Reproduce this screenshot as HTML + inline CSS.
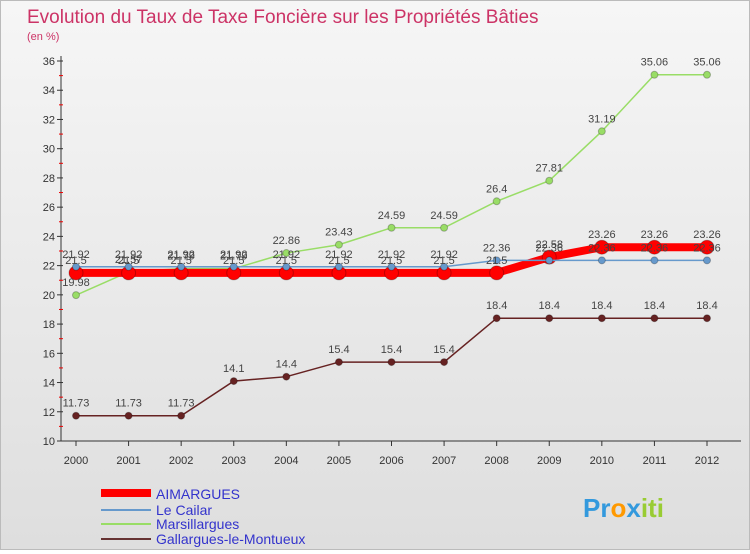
<!DOCTYPE html>
<html><head><meta charset="utf-8">
<style>
body{margin:0;width:750px;height:550px;overflow:hidden;font-family:"Liberation Sans",sans-serif}
#wrap{position:relative;width:748px;height:548px;border:1px solid #bbb;background:linear-gradient(#f6f6f6,#dedede)}
</style></head><body>
<div id="wrap">
<svg id="chart" width="748" height="548">
<text x="26" y="22" font-size="19" fill="#cc3366">Evolution du Taux de Taxe Foncière sur les Propriétés Bâties</text>
<text x="26" y="39" font-size="11" fill="#cc3366">(en %)</text>
<g id="axes"></g><g id="series"></g><g id="labels"></g>
<g font-size="14" fill="#3333cc">
<rect x="100" y="488" width="50" height="8" fill="#ff0000"/>
<text x="155" y="498">AIMARGUES</text>
<line x1="100" y1="509" x2="150" y2="509" stroke="#6699cc" stroke-width="2"/>
<text x="155" y="514">Le Cailar</text>
<line x1="100" y1="523" x2="150" y2="523" stroke="#99dd66" stroke-width="2"/>
<text x="155" y="528">Marsillargues</text>
<line x1="100" y1="538" x2="150" y2="538" stroke="#663333" stroke-width="2"/>
<text x="155" y="543">Gallargues-le-Montueux</text>
</g>
<text x="582" y="516" font-size="26" font-weight="bold"><tspan fill="#3399dd">Pr</tspan><tspan fill="#ff9900">o</tspan><tspan fill="#3399dd">x</tspan><tspan fill="#99cc33">iti</tspan></text>
</svg></div>
<script>
const years=["2000","2001","2002","2003","2004","2005","2006","2007","2008","2009","2010","2011","2012"];
const yTicks=[10,12,14,16,18,20,22,24,26,28,30,32,34,36];
const aimargues=[21.5,21.5,21.5,21.5,21.5,21.5,21.5,21.5,21.5,22.58,23.26,23.26,23.26];
const leCailar=[21.92,21.92,21.92,21.92,21.92,21.92,21.92,21.92,22.36,22.36,22.36,22.36,22.36];
const marsillargues=[19.98,21.57,21.79,21.79,22.86,23.43,24.59,24.59,26.4,27.81,31.19,35.06,35.06];
const gallargues=[11.73,11.73,11.73,14.1,14.4,15.4,15.4,15.4,18.4,18.4,18.4,18.4,18.4];
const NS="http://www.w3.org/2000/svg";
const X=i=>75+i*(631/12);
const Y=v=>440-(v-10)*(380/26);
function mk(t,a,p){const e=document.createElementNS(NS,t);for(const k in a)e.setAttribute(k,a[k]);p.appendChild(e);return e;}
const ax=document.getElementById('axes');
let l=mk('line',{x1:60,y1:55,x2:60,y2:440,stroke:'#333'},ax);

l=mk('line',{x1:60,y1:440,x2:740,y2:440,stroke:'#333'},ax);

yTicks.forEach(v=>{
 mk('line',{x1:56,y1:Y(v),x2:62,y2:Y(v),stroke:'#333'},ax);
 if(v<36)mk('line',{x1:58,y1:Y(v+1),x2:62,y2:Y(v+1),stroke:'#e00'},ax);
 const t=mk('text',{x:54,y:Y(v)+4,'font-size':11,'text-anchor':'end',fill:'#333'},ax);t.textContent=v;
 
});
years.forEach((y,i)=>{
 mk('line',{x1:X(i),y1:440,x2:X(i),y2:445,stroke:'#333'},ax);
 const t=mk('text',{x:X(i),y:463,'font-size':11,'text-anchor':'middle',fill:'#333'},ax);t.textContent=y;
 
});
const sg=document.getElementById('series'),lg=document.getElementById('labels');
function draw(vals,color,w,r,name){
 const pts=vals.map((v,i)=>X(i)+','+Y(v)).join(' ');
 const p=mk('polyline',{points:pts,fill:'none',stroke:color,'stroke-width':w},sg);
 
 vals.forEach((v,i)=>{
  const c=mk('circle',{cx:X(i),cy:Y(v),r:r,fill:color,stroke:'rgba(0,0,0,0.25)'},sg);
  
  const t=mk('text',{x:X(i),y:Y(v)-9,'font-size':11,'text-anchor':'middle',fill:'#444'},lg);t.textContent=v;
  
 });
}
draw(gallargues,'#662222',1.5,3.5,'gallargues');
draw(marsillargues,'#99dd66',1.5,3.5,'marsillargues');
draw(aimargues,'#ff0000',8,7,'aimargues');
draw(leCailar,'#6699cc',1.5,3.5,'le-cailar');
</script>
</body></html>
